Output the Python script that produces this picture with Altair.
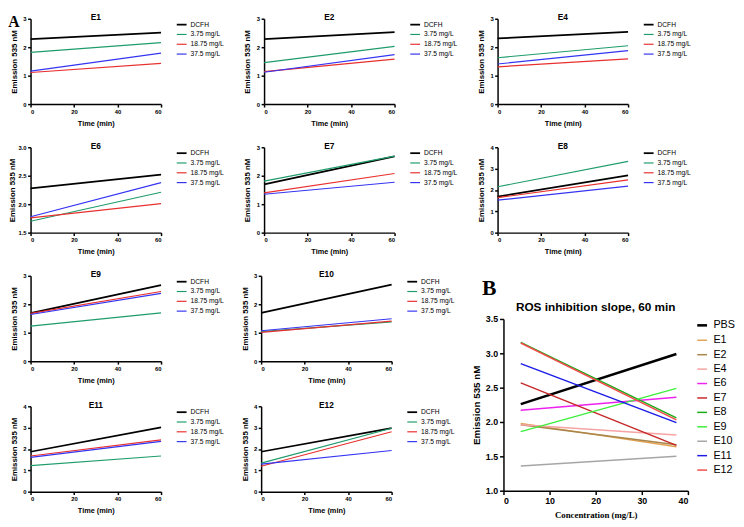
import altair as alt
import pandas as pd

SANS = "Liberation Sans"
SERIF = "Liberation Serif"

# ---------------- data: panel A (time courses) ----------------
time_points = [0, 60]
x_ticks_A = [0, 20, 40, 60]
doses = ["DCFH", "3.75 mg/L", "18.75 mg/L", "37.5 mg/L"]
dose_colors = ["#000000", "#1f9c6c", "#e8302e", "#3434f2"]
dose_widths = [1.8, 1.2, 1.2, 1.2]

y_ticks_3 = [0, 1, 2, 3]
y_ticks_4 = [0, 1, 2, 3, 4]
y_ticks_E6 = [1.5, 2.0, 2.5, 3.0]

E1_t0 = [2.28, 1.82, 1.11, 1.16]
E1_t60 = [2.51, 2.16, 1.43, 1.79]
E2_t0 = [2.28, 1.46, 1.14, 1.12]
E2_t60 = [2.53, 2.03, 1.58, 1.74]
E4_t0 = [2.31, 1.63, 1.31, 1.41]
E4_t60 = [2.54, 2.05, 1.59, 1.88]
E6_t0 = [2.28, 1.70, 1.76, 1.78]
E6_t60 = [2.52, 2.21, 2.01, 2.38]
E7_t0 = [1.70, 1.81, 1.40, 1.35]
E7_t60 = [2.68, 2.69, 2.08, 1.77]
E8_t0 = [1.69, 2.15, 1.64, 1.52]
E8_t60 = [2.68, 3.34, 2.47, 2.18]
E9_t0 = [1.69, 1.23, 1.68, 1.64]
E9_t60 = [2.67, 1.70, 2.45, 2.38]
E10_t0 = [1.70, 1.04, 1.01, 1.07]
E10_t60 = [2.69, 1.38, 1.41, 1.49]
E11_t0 = [1.87, 1.22, 1.67, 1.61]
E11_t60 = [3.01, 1.67, 2.43, 2.36]
E12_t0 = [1.87, 1.34, 1.19, 1.29]
E12_t60 = [2.98, 2.97, 2.81, 1.93]

# ---------------- data: panel B (slopes vs concentration) ----------------
panel_labels = ["A", "B"]
conc_points = [3.75, 37.5]
x_ticks_B = [0, 10, 20, 30, 40]
y_ticks_B = [1.0, 1.5, 2.0, 2.5, 3.0, 3.5]
extracts = ["PBS", "E1", "E2", "E4", "E6", "E7", "E8", "E9", "E10", "E11", "E12"]
extract_colors = ["#000000", "#e2a355", "#a8854a", "#f5a3a3", "#ee22ee", "#c62828",
                  "#16ad16", "#3cef3c", "#a6a6a6", "#1c1ce6", "#f24b4b"]
extract_widths = [2.6, 1.5, 1.5, 1.5, 1.5, 1.5, 1.5, 1.5, 1.5, 1.5, 1.5]
B_at_low = [2.26, 1.98, 1.96, 1.96, 2.17, 2.57, 3.16, 1.86, 1.36, 2.85, 3.15]
B_at_high = [2.99, 1.64, 1.67, 1.81, 2.36, 1.66, 2.06, 2.49, 1.50, 1.99, 2.03]

axA = dict(domainColor="black", domainWidth=1.5, tickColor="black", tickWidth=1.5,
           tickSize=3, labelFont=SANS, labelFontWeight="bold", labelFontSize=6,
           labelColor="black", labelPadding=1.5, titleFont=SANS, titleFontWeight="bold",
           titleColor="black", grid=False)


def a_panel(name, t0, t60, yticks, yfmt="d", ytp=4.5):
    n = len(doses)
    df = pd.DataFrame({
        "series": doses + doses,
        "time": [time_points[0]] * n + [time_points[1]] * n,
        "value": t0 + t60,
    })
    leg = alt.Legend(title=None, orient="right", offset=11, padding=0,
                     symbolType="stroke", symbolSize=100, symbolStrokeWidth=1.5,
                     labelFont=SANS, labelFontSize=6.8, labelColor="black",
                     labelOffset=3, rowPadding=0)
    return alt.Chart(df).mark_line().encode(
        x=alt.X("time:Q", scale=alt.Scale(domain=time_points, nice=False),
                axis=alt.Axis(values=x_ticks_A, format="d", title="Time (min)",
                              titleFontSize=7.5, titlePadding=5, **axA)),
        y=alt.Y("value:Q", scale=alt.Scale(domain=[yticks[0], yticks[-1]], nice=False, zero=False),
                axis=alt.Axis(values=yticks, format=yfmt, title="Emission 535 nM",
                              titleFontSize=8, titlePadding=ytp, **axA)),
        color=alt.Color("series:N", scale=alt.Scale(domain=doses, range=dose_colors), legend=leg),
        strokeWidth=alt.StrokeWidth("series:N",
                                    scale=alt.Scale(type="ordinal", domain=doses, range=dose_widths),
                                    legend=leg),
    ).properties(
        width=133, height=87,
        title=alt.TitleParams(name, font=SANS, fontSize=8.5, fontWeight="bold",
                              color="black", offset=-6),
    )


def ind(c):
    return c.resolve_scale(color="independent", strokeWidth="independent")


E1 = a_panel("E1", E1_t0, E1_t60, y_ticks_3)
E2 = a_panel("E2", E2_t0, E2_t60, y_ticks_3)
E4 = a_panel("E4", E4_t0, E4_t60, y_ticks_3)
E6 = a_panel("E6", E6_t0, E6_t60, y_ticks_E6, yfmt=".1f", ytp=2)
E7 = a_panel("E7", E7_t0, E7_t60, y_ticks_3)
E8 = a_panel("E8", E8_t0, E8_t60, y_ticks_4)
E9 = a_panel("E9", E9_t0, E9_t60, y_ticks_3)
E10 = a_panel("E10", E10_t0, E10_t60, y_ticks_3)
E11 = a_panel("E11", E11_t0, E11_t60, y_ticks_4)
E12 = a_panel("E12", E12_t0, E12_t60, y_ticks_4)

# ---------------- panel B ----------------
m = len(extracts)
dfB = pd.DataFrame({
    "extract": extracts + extracts,
    "conc": [conc_points[0]] * m + [conc_points[1]] * m,
    "value": B_at_low + B_at_high,
})
axB = dict(domainColor="black", domainWidth=1.5, tickColor="black", tickWidth=1.5,
           tickSize=4, labelFont=SANS, labelFontWeight="bold", labelFontSize=9,
           labelColor="black", labelPadding=2, titleFontWeight="bold",
           titleColor="black", grid=False)
legB = alt.Legend(title=None, orient="right", offset=8, padding=0,
                  symbolType="stroke", symbolSize=100, symbolStrokeWidth=1.5,
                  labelFont=SANS, labelFontSize=11, labelColor="black",
                  labelOffset=5, rowPadding=3.7)
B = alt.Chart(dfB).mark_line().encode(
    x=alt.X("conc:Q", scale=alt.Scale(domain=[x_ticks_B[0], x_ticks_B[-1]], nice=False),
            axis=alt.Axis(values=x_ticks_B, format="d", title="Concentration (mg/L)",
                          titleFont=SERIF, titleFontSize=9, titlePadding=5, **axB)),
    y=alt.Y("value:Q", scale=alt.Scale(domain=[y_ticks_B[0], y_ticks_B[-1]], nice=False, zero=False),
            axis=alt.Axis(values=y_ticks_B, format=".1f", title="Emission 535 nM",
                          titleFont=SANS, titleFontSize=10, titlePadding=4, **axB)),
    color=alt.Color("extract:N", scale=alt.Scale(domain=extracts, range=extract_colors), legend=legB),
    strokeWidth=alt.StrokeWidth("extract:N",
                                scale=alt.Scale(type="ordinal", domain=extracts, range=extract_widths),
                                legend=legB),
).properties(
    width=188, height=175,
    title=alt.TitleParams("ROS inhibition slope, 60 min", font=SANS, fontSize=12,
                          fontWeight="bold", color="black", offset=1),
)

# panel letter "B" as a small text view stacked above the B chart
B_label = alt.Chart(pd.DataFrame({"label": [panel_labels[1]]})).mark_text(
    font=SERIF, fontSize=22, fontWeight="bold", color="black",
    align="center", baseline="middle", dx=-15, dy=3,
).encode(text="label:N").properties(width=1, height=20)

B_group = ind(alt.vconcat(B_label, B, spacing=2))

row1 = ind(alt.hconcat(E1, E2, E4, spacing=19))
row2 = ind(alt.hconcat(E6, E7, E8, spacing=19))
row3 = ind(alt.hconcat(E9, E10, spacing=16))
row4 = ind(alt.hconcat(E11, E12, spacing=16))
left_bottom = ind(alt.vconcat(row3, row4, spacing=17))
bottom = ind(alt.hconcat(left_bottom, B_group, spacing=16))

chart = ind(alt.vconcat(row1, row2, bottom, spacing=15,
                        title=alt.TitleParams(panel_labels[0], anchor="start", font=SERIF, fontSize=16,
                                              fontWeight="bold", color="black", offset=-17))
            ).properties(
    padding={"left": 0, "top": 0, "right": 0, "bottom": 0}
).configure_view(strokeWidth=0)

chart.save("out.html", embed_options={"renderer": "svg", "actions": False})
